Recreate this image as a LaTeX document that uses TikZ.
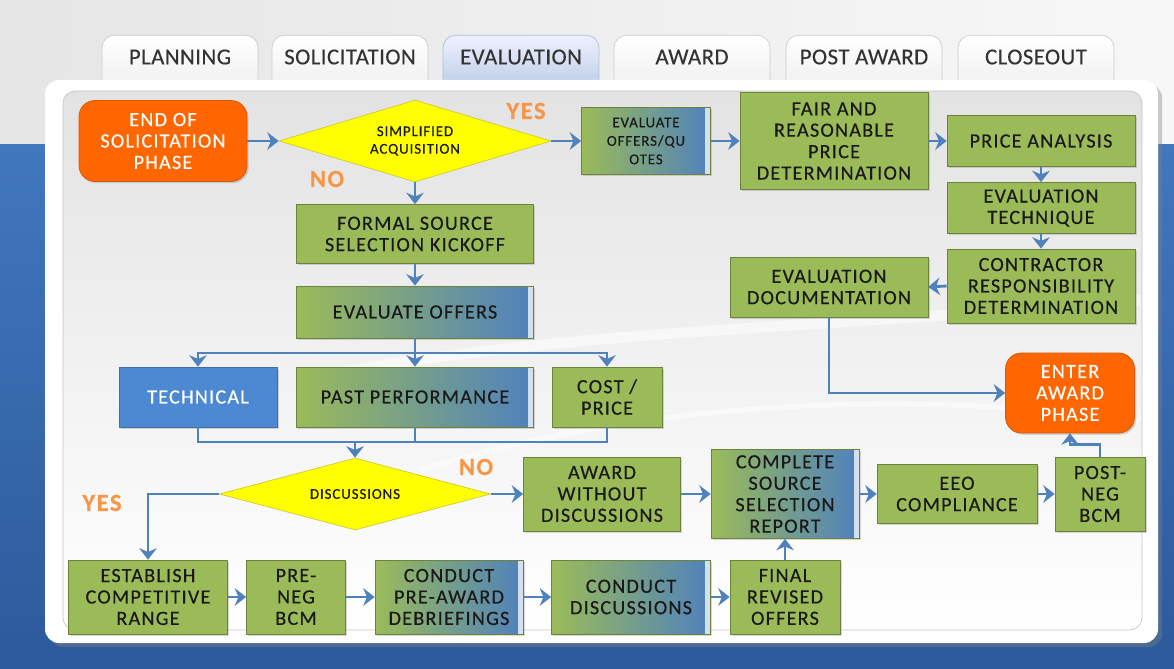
\documentclass[tikz,border=0pt]{standalone}
\usepackage{fontspec}
\setmainfont{Carlito}[LetterSpace=6, FakeBold=0.3]
\usetikzlibrary{shapes.geometric,arrows.meta,shadows}

\definecolor{boxgreen}{HTML}{9BBB59}
\definecolor{boxblue}{HTML}{4F81BD}
\definecolor{flowblue}{HTML}{4F81BD}
\definecolor{techblue}{HTML}{4D88D2}
\definecolor{endorange}{HTML}{FF6600}
\definecolor{choiceyellow}{HTML}{FFFF00}
\definecolor{answerorange}{HTML}{F79646}
\definecolor{bandtop}{HTML}{4177BD}
\definecolor{bandbottom}{HTML}{2C5A9C}

\begin{document}
\begin{tikzpicture}[
  x=0.02cm, y=-0.02cm,
  stepbox/.style={draw=boxgreen!70!black, fill=boxgreen, text=black!90, align=center,
    inner sep=1pt, font=\fontsize{11.5}{12.2}\selectfont,
    drop shadow={opacity=0.3, shadow xshift=1pt, shadow yshift=-1pt}},
  fadebox/.style={stepbox, left color=boxgreen, middle color=boxgreen!75!boxblue, right color=boxblue,
    path picture={\fill[white, opacity=0.75] ([xshift=-3pt]path picture bounding box.north east)
      rectangle (path picture bounding box.south east);}},
  techbox/.style={stepbox, draw=techblue!80!black, fill=techblue, text=white},
  endbox/.style={draw=endorange!85!black, fill=endorange, text=white, rounded corners=9pt, align=center,
    inner sep=1pt, font=\fontsize{11.5}{12.2}\selectfont,
    drop shadow={opacity=0.3, shadow xshift=1pt, shadow yshift=-1pt}},
  choice/.style={diamond, aspect=3.3, draw=choiceyellow!60!gray, fill=choiceyellow, text=black!90,
    align=center, inner sep=0pt, font=\fontsize{8.5}{10}\selectfont},
  answer/.style={text=answerorange, font=\fontsize{14}{14}\selectfont\bfseries},
  tab/.style={draw=gray!40, rounded corners=7pt, top color=white, bottom color=gray!15,
    minimum width=3.12cm, text height=0.48cm, text depth=0.6cm, inner sep=0.1cm, anchor=north,
    text=black!80, font=\fontsize{13}{13}\selectfont\addfontfeature{LetterSpace=2}},
  flow/.style={draw=flowblue, line width=1.6pt, -{Stealth[length=6.5pt, width=10pt]}},
  flowline/.style={draw=flowblue, line width=1.6pt}
]
\useasboundingbox (0,0) rectangle (1174,669);

% backdrop: grey header, blue band underneath
\fill[left color=gray!20, right color=gray!6] (0,0) rectangle (1174,145);
\fill[top color=bandtop, bottom color=bandbottom] (0,145) rectangle (1174,669);

% phase tabs
\node[tab] (planning) at (180,35) {PLANNING};
\node[tab] (solicitation) at (350,35) {SOLICITATION};
\node[tab, draw=boxblue!50, top color=blue!6, bottom color=boxblue!45] (evaluation) at (521,35) {EVALUATION};
\node[tab] (award) at (692,35) {AWARD};
\node[tab] (postaward) at (864,35) {POST AWARD};
\node[tab] (closeout) at (1036,35) {CLOSEOUT};

% white card and grey inner panel
\path[fill=white, rounded corners=8pt, drop shadow={opacity=0.4}] (45,80) rectangle (1158,643);
\draw[gray!45, top color=gray!22, bottom color=white, rounded corners=7pt] (63,91) rectangle (1142,630);
\draw[white, line width=6pt, opacity=0.55] (300,380) .. controls (550,330) and (800,330) .. (1140,300);
\draw[white, line width=3pt, opacity=0.5] (420,470) .. controls (650,400) and (900,390) .. (1140,420);

% top row
\node[endbox, minimum width=3.36cm, minimum height=1.62cm] (endsol) at (163,141) {END OF\\SOLICITATION\\PHASE};
\node[choice, minimum width=5.44cm, minimum height=1.64cm] (simpl) at (415,141) {SIMPLIFIED\\ACQUISITION};
\node[fadebox, minimum width=2.58cm, minimum height=1.34cm, font=\fontsize{8.5}{10.5}\selectfont] (evalq) at (646,141) {EVALUATE\\OFFERS/QU\\OTES};
\node[stepbox, minimum width=3.76cm, minimum height=1.94cm] (fair) at (834,141) {FAIR AND\\REASONABLE\\PRICE\\DETERMINATION};
\node[stepbox, minimum width=3.76cm, minimum height=1.02cm] (price) at (1041,141) {PRICE ANALYSIS};
\node[stepbox, minimum width=3.76cm, minimum height=1.02cm] (evtech) at (1041,208) {EVALUATION\\TECHNIQUE};
\node[stepbox, minimum width=3.76cm, minimum height=1.48cm] (contr) at (1041,286) {CONTRACTOR\\RESPONSIBILITY\\DETERMINATION};
\node[stepbox, minimum width=3.96cm, minimum height=1.2cm] (evdoc) at (829,287) {EVALUATION\\DOCUMENTATION};
\node[endbox, minimum width=2.58cm, minimum height=1.6cm] (enter) at (1070,393) {ENTER\\AWARD\\PHASE};

% formal source selection branch
\node[stepbox, minimum width=4.74cm, minimum height=1.18cm] (formal) at (415,234) {FORMAL SOURCE\\SELECTION KICKOFF};
\node[fadebox, minimum width=4.74cm, minimum height=1.04cm] (evoff) at (415,312) {EVALUATE OFFERS};
\node[techbox, minimum width=3.16cm, minimum height=1.2cm] (techn) at (198,397) {TECHNICAL};
\node[fadebox, minimum width=4.74cm, minimum height=1.2cm] (past) at (415,397) {PAST PERFORMANCE};
\node[stepbox, minimum width=2.2cm, minimum height=1.2cm] (cost) at (607,397) {COST /\\PRICE};
\node[choice, minimum width=5.42cm, minimum height=1.44cm] (disc) at (355,494) {DISCUSSIONS};

% award path
\node[stepbox, minimum width=3.14cm, minimum height=1.48cm] (awo) at (602,494) {AWARD\\WITHOUT\\DISCUSSIONS};
\node[fadebox, minimum width=2.96cm, minimum height=1.78cm] (cssr) at (785,494) {COMPLETE\\SOURCE\\SELECTION\\REPORT};
\node[stepbox, minimum width=3.2cm, minimum height=1.18cm] (eeo) at (957,494) {EEO\\COMPLIANCE};
\node[stepbox, minimum width=1.8cm, minimum height=1.48cm] (postneg) at (1100,494) {POST-\\NEG\\BCM};

% discussions path
\node[stepbox, minimum width=3.18cm, minimum height=1.48cm] (estab) at (148,597) {ESTABLISH\\COMPETITIVE\\RANGE};
\node[stepbox, minimum width=1.98cm, minimum height=1.48cm] (preneg) at (296,597) {PRE-\\NEG\\BCM};
\node[fadebox, minimum width=2.96cm, minimum height=1.48cm] (cpad) at (449,597) {CONDUCT\\PRE-AWARD\\DEBRIEFINGS};
\node[fadebox, minimum width=3.18cm, minimum height=1.48cm] (cdisc) at (631,597) {CONDUCT\\DISCUSSIONS};
\node[stepbox, minimum width=2.2cm, minimum height=1.48cm] (final) at (785,597) {FINAL\\REVISED\\OFFERS};

% yes / no answers
\node[answer] (yes1) at (526,111) {YES};
\node[answer] (no1) at (327,179) {NO};
\node[answer] (no2) at (476,467) {NO};
\node[answer] (yes2) at (102,503) {YES};

% connectors
\coordinate (fork) at (415,353);
\coordinate (merge) at (355,442);

\draw[flow] (endsol.east) -- (simpl.west);
\draw[flow] (simpl.east) -- (evalq.west);
\draw[flow] (evalq.east) -- (fair.west);
\draw[flow] (fair.east) -- (price.west);
\draw[flow] (price.south) -- (evtech.north);
\draw[flow] (evtech.south) -- (contr.north);
\draw[flow] (contr.west) -- (evdoc.east);
\draw[flow] (evdoc.south) |- (enter.west);
\draw[flow] (simpl.south) -- (formal.north);
\draw[flow] (formal.south) -- (evoff.north);

\draw[flow] (evoff.south) -- (past.north);
\draw[flow] (fork) -| (techn.north);
\draw[flow] (fork) -| (cost.north);

\draw[flowline] (techn.south) |- (merge);
\draw[flowline] (cost.south) |- (merge);
\draw[flowline] (past.south) -- (past.south |- merge);
\draw[flow] (merge) -- (disc.north);

\draw[flow] (disc.east) -- (awo.west);
\draw[flow] (disc.west) -| (estab.north);
\draw[flow] (awo.east) -- (cssr.west);
\draw[flow] (cssr.east) -- (eeo.west);
\draw[flow] (eeo.east) -- (postneg.west);
\draw[flow] (postneg.north) -- ++(0,-12) -| (enter.south);

\draw[flow] (estab.east) -- (preneg.west);
\draw[flow] (preneg.east) -- (cpad.west);
\draw[flow] (cpad.east) -- (cdisc.west);
\draw[flow] (cdisc.east) -- (final.west);
\draw[flow] (final.north) -- (cssr.south);
\end{tikzpicture}
\end{document}
